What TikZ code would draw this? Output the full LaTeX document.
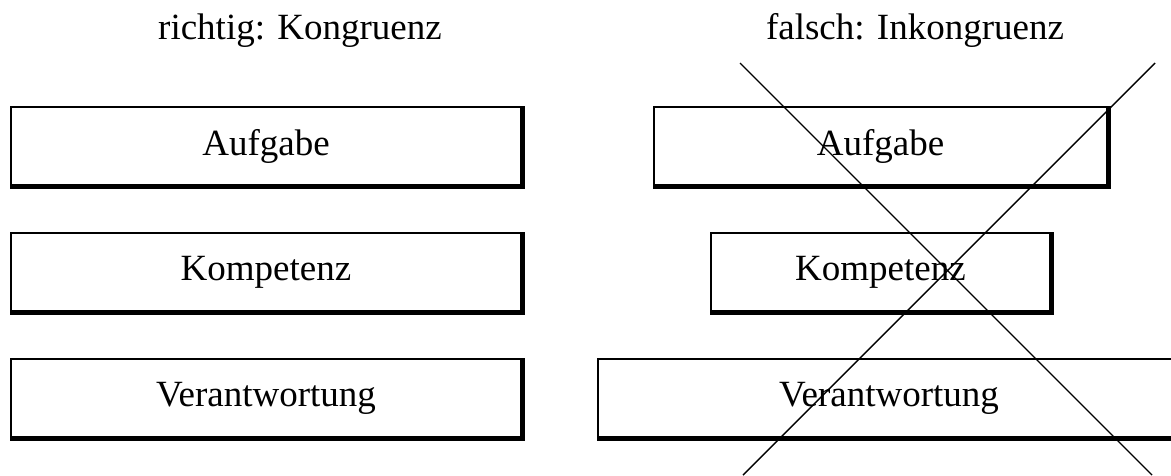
\documentclass[tikz,border=0pt]{standalone}
\usepackage{fontspec}
\setmainfont{Liberation Serif}
\usetikzlibrary{calc}
\definecolor{b}{HTML}{000000}

\begin{document}
\begin{tikzpicture}[x=1pt, y=-1pt, line cap=butt, line join=miter,
    box/.style={draw=b, line width=2pt, inner sep=0pt, minimum height=78pt,
        font=\fontsize{37}{44}\selectfont},
    title/.style={anchor=base, font=\fontsize{37}{44}\selectfont},
    heavy/.style={draw=b, line width=5pt},
    cross/.style={draw=b, line width=1.4pt}]

    % picture frame (pixels of the reference)
    \useasboundingbox (0,0) rectangle (1171,475);

    % row centres
    \def\rowa{146}
    \def\rowb{272}
    \def\rowc{398}

    % headings
    \node[title] (tl) at (300,39) {richtig: Kongruenz};
    \node[title] (tr) at (915,39) {falsch: Inkongruenz};

    % left column: all boxes the same size
    \node[box, minimum width=510pt] (la) at (266,\rowa) {Aufgabe};
    \node[box, minimum width=510pt] (lk) at (266,\rowb) {Kompetenz};
    \node[box, minimum width=510pt] (lv) at (266,\rowc) {Verantwortung};

    % right column: boxes of different size
    \node[box, minimum width=453pt] (ra) at (880.5,\rowa) {Aufgabe};
    \node[box, minimum width=339pt] (rk) at (880.5,\rowb) {Kompetenz};
    \node[box, minimum width=582pt] (rv) at (889,\rowc) {Verantwortung};

    % heavy right and bottom edges
    \foreach \n in {la,lk,lv,ra,rk,rv}
        \draw[heavy] (\n.north east) -- (\n.south east) -- (\n.south west);

    % the cross over the right column
    \coordinate (xa) at (740,63);
    \coordinate (xb) at (1152,475);
    \coordinate (xc) at (1155,63);
    \coordinate (xd) at (743,475);
    \draw[cross] (xa) -- (xb);
    \draw[cross] (xc) -- (xd);

\end{tikzpicture}
\end{document}
